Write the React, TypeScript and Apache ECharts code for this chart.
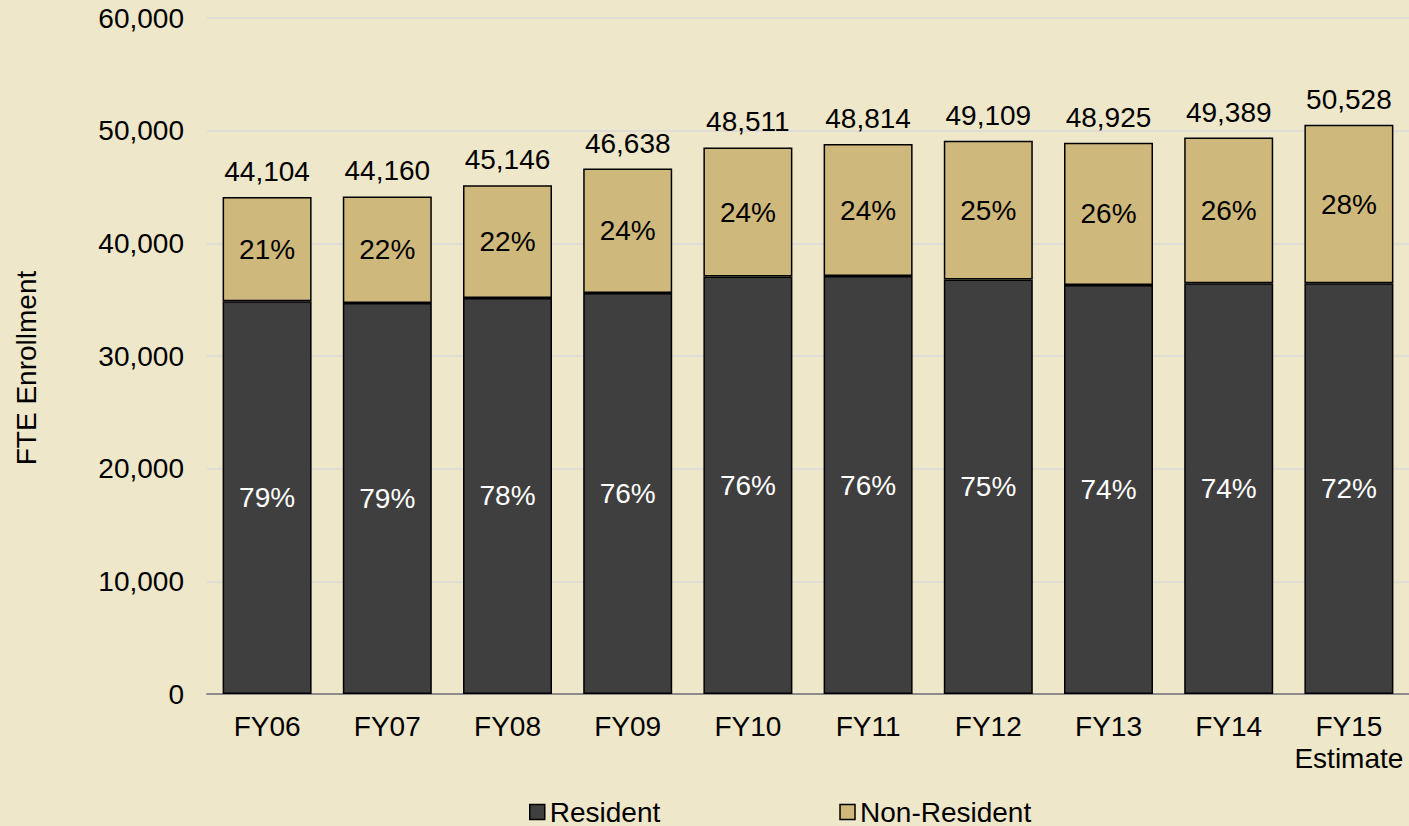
import React, { useEffect, useRef } from "react";
import * as echarts from "echarts";

const categories = ["FY06", "FY07", "FY08", "FY09", "FY10", "FY11", "FY12", "FY13", "FY14", "FY15\nEstimate"];
const totals = [44104, 44160, 45146, 46638, 48511, 48814, 49109, 48925, 49389, 50528];
const resident = [34850, 34700, 35150, 35600, 37050, 37100, 36800, 36300, 36450, 36450];
const nonResident = [9254, 9460, 9996, 11038, 11461, 11714, 12309, 12625, 12939, 14078];
const residentPct = ["79%", "79%", "78%", "76%", "76%", "76%", "75%", "74%", "74%", "72%"];
const nonResidentPct = ["21%", "22%", "22%", "24%", "24%", "24%", "25%", "26%", "26%", "28%"];
const yTicks = { min: 0, max: 60000, interval: 10000 };

const FONT = "'Liberation Sans', Arial, sans-serif";
const FS = 28;

export default function App() {
  const ref = useRef<HTMLDivElement>(null);
  useEffect(() => {
    if (!ref.current) return;
    const chart = echarts.init(ref.current, null, { renderer: "svg" });
    chart.setOption({
      animation: false,
      backgroundColor: "#EEE7CA",
      textStyle: { fontFamily: FONT },
      grid: { left: 207, top: 18, width: 1207, height: 676, containLabel: false },
      legend: {
        data: ["Resident", "Non-Resident"],
        left: 529,
        top: 798,
        icon: "rect",
        itemWidth: 15,
        itemHeight: 15,
        itemGap: 179,
        padding: 0,
        itemStyle: { borderColor: "#000", borderWidth: 1.5 },
        textStyle: { fontSize: FS, color: "#000", fontFamily: FONT },
      },
      graphic: [
        {
          type: "text",
          x: 26,
          y: 368,
          rotation: Math.PI / 2,
          style: {
            text: "FTE Enrollment",
            fontSize: FS,
            fontFamily: FONT,
            fill: "#000",
            align: "center",
            verticalAlign: "middle",
          },
        },
      ],
      xAxis: {
        type: "category",
        data: categories,
        axisTick: { show: false },
        axisLine: { lineStyle: { color: "#8C8C8C", width: 2 } },
        axisLabel: {
          fontSize: FS,
          color: "#000",
          fontFamily: FONT,
          margin: 16,
          lineHeight: 32,
          interval: 0,
        },
      },
      yAxis: {
        type: "value",
        min: yTicks.min,
        max: yTicks.max,
        interval: yTicks.interval,
        axisLine: { show: false },
        axisTick: { show: false },
        splitLine: { lineStyle: { color: "#D9D9D9", width: 1.5 } },
        axisLabel: {
          fontSize: FS,
          color: "#000",
          fontFamily: FONT,
          margin: 23,
          formatter: (v: number) => v.toLocaleString("en-US"),
        },
      },
      series: [
        {
          name: "Resident",
          type: "bar",
          stack: "total",
          barWidth: 89,
          data: resident,
          itemStyle: { color: "#3F3F3F", borderColor: "#000", borderWidth: 1.5 },
          label: {
            show: true,
            position: "inside",
            color: "#fff",
            fontSize: FS,
            fontFamily: FONT,
            formatter: (p: any) => residentPct[p.dataIndex],
          },
        },
        {
          name: "Non-Resident",
          type: "bar",
          stack: "total",
          barWidth: 89,
          data: nonResident,
          itemStyle: { color: "#CFB87C", borderColor: "#000", borderWidth: 1.5 },
          label: {
            show: true,
            position: "inside",
            color: "#000",
            fontSize: FS,
            fontFamily: FONT,
            formatter: (p: any) => nonResidentPct[p.dataIndex],
          },
        },
        {
          name: "Total",
          type: "scatter",
          data: totals,
          symbolSize: 1,
          itemStyle: { color: "rgba(0,0,0,0)", opacity: 1 },
          label: {
            show: true,
            position: "top",
            distance: 11,
            color: "#000",
            opacity: 1,
            fontSize: FS,
            fontFamily: FONT,
            formatter: (p: any) => Number(p.value).toLocaleString("en-US"),
          },
          z: 5,
        },
      ],
    });
    return () => chart.dispose();
  }, []);
  return (
    <div
      ref={ref}
      style={{ position: "fixed", left: 0, top: 0, width: 1409, height: 826 }}
    />
  );
}
